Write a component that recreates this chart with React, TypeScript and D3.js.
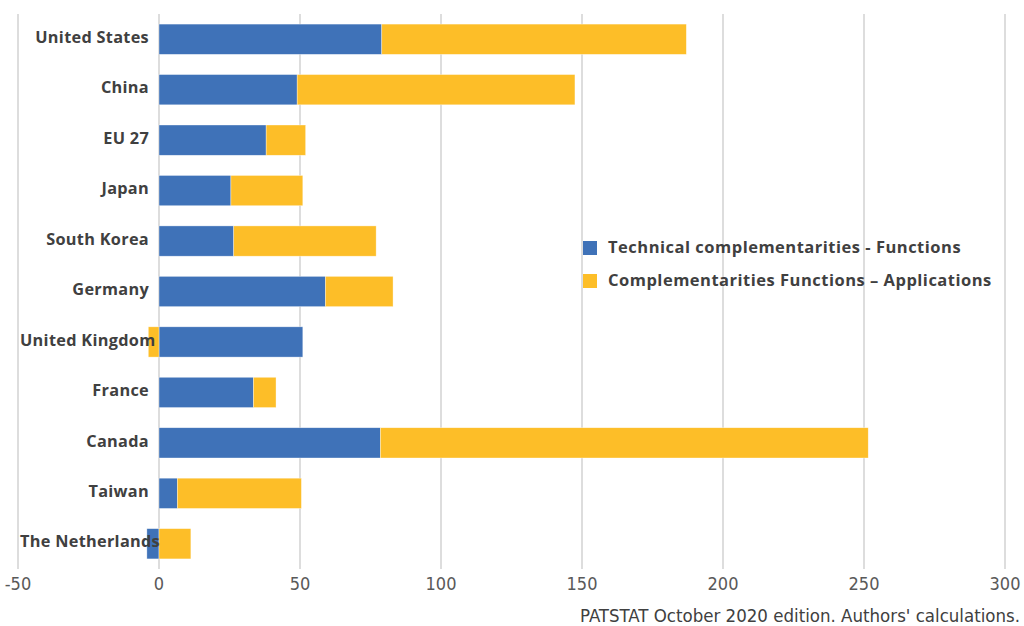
import * as d3 from 'd3';
import React, { useEffect, useRef } from 'react';

const countries = ['United States', 'China', 'EU 27', 'Japan', 'South Korea', 'Germany', 'United Kingdom', 'France', 'Canada', 'Taiwan', 'The Netherlands'];
const technical = [79, 49, 38, 25.5, 26.5, 59, 51, 33.5, 78.5, 6.5, -4.3];
const applications = [108, 98.5, 14, 25.5, 50.5, 24, -3.8, 8, 173, 44, 11.3];
const seriesNames = ['Technical complementarities - Functions', 'Complementarities Functions \u2013 Applications'];
const xTicks = [-50, 0, 50, 100, 150, 200, 250, 300];
const sourceNote = "PATSTAT October 2020 edition. Authors' calculations.";

const colors = ['#3f72b8', '#fdbe28'];

const App = () => {
    const chartArea = useRef<SVGSVGElement>(null);
    const W = 1024, H = 626;
    const margin = { top: 14, right: 19, bottom: 57, left: 18 };

    useEffect(() => {
        const svg = d3.select(chartArea.current);
        svg.selectAll('*').remove();

        const rows = countries.map((c, i) => ({ country: c, tech: technical[i], app: applications[i] }));

        const x = d3.scaleLinear().domain([-50, 300]).range([margin.left, W - margin.right]);
        const y = d3.scaleBand().domain(countries).range([margin.top, H - margin.bottom]).paddingInner(0.4).paddingOuter(0.2);

        // gridlines
        svg.append('g').selectAll('line').data(xTicks).join('line')
            .attr('x1', d => x(d)).attr('x2', d => x(d))
            .attr('y1', margin.top).attr('y2', H - margin.bottom)
            .attr('stroke', '#d2d2d2').attr('stroke-width', 1.5);

        // stacked bars, diverging for negatives
        const stack = d3.stack<any>().keys(['tech', 'app']).offset(d3.stackOffsetDiverging);
        const series = stack(rows);

        svg.append('g').selectAll('g').data(series).join('g')
            .attr('fill', (d, i) => colors[i])
            .selectAll('rect').data(d => d).join('rect')
            .attr('x', d => x(Math.min(d[0], d[1])))
            .attr('width', d => Math.abs(x(d[1]) - x(d[0])))
            .attr('y', d => y(d.data.country) as number)
            .attr('height', y.bandwidth())
            .attr('stroke', 'rgba(255,255,255,0.6)').attr('stroke-width', 0.6);

        const labelFont = "'Open Sans', Lato, sans-serif";
        const narrowFont = "'Liberation Sans Narrow', 'DejaVu Sans Condensed', sans-serif";

        // x tick labels
        svg.append('g').selectAll('text').data(xTicks).join('text')
            .attr('x', d => x(d)).attr('y', 590)
            .attr('text-anchor', 'middle')
            .attr('font-family', narrowFont)
            .attr('font-size', 18).attr('fill', '#595959')
            .text(d => d);

        // category labels
        const labels = svg.append('g').selectAll('text').data(countries).join('text')
            .attr('y', d => (y(d) as number) + y.bandwidth() / 2 - 2)
            .attr('dy', '0.35em')
            .attr('font-family', labelFont)
            .attr('font-weight', 'bold')
            .attr('font-size', 16.3).attr('letter-spacing', 0.3).attr('fill', '#404040')
            .text(d => d);
        labels.each(function () {
            const t = this as SVGTextElement;
            const w = t.getComputedTextLength();
            d3.select(t).attr('x', Math.max(149 - w, 20));
        });

        // legend
        const legend = svg.append('g');
        seriesNames.forEach((name, i) => {
            const ly = 248 + i * 33;
            legend.append('rect').attr('x', 583).attr('y', ly - 7).attr('width', 14).attr('height', 14).attr('fill', colors[i]);
            legend.append('text').attr('x', 608).attr('y', ly - 1).attr('dy', '0.35em')
                .attr('font-family', labelFont)
                .attr('font-weight', 'bold').attr('font-size', 16.5).attr('letter-spacing', 0.5).attr('fill', '#404040')
                .text(name);
        });

        // source
        svg.append('text').attr('x', 1020).attr('y', 622).attr('text-anchor', 'end')
            .attr('font-family', narrowFont)
            .attr('font-size', 18.5).attr('fill', '#404040')
            .text(sourceNote);
    }, []);

    return <svg ref={chartArea} width={W} height={H}
        style={{ position: 'absolute', left: 0, top: 0, background: '#fff' }} />;
}
export default App;
